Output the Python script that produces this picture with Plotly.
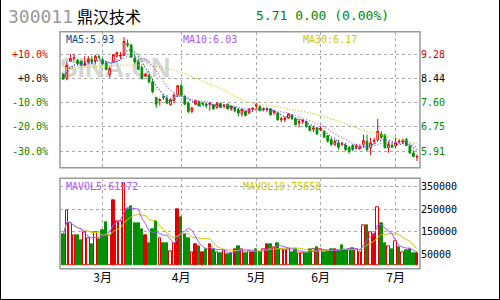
import plotly.graph_objects as go
import pandas as pd

# ---------------- data ----------------
opens = [8.59, 8.44, 9.04, 9.15, 9.07, 9.04, 8.90, 9.02, 9.10, 9.07,
         9.20, 9.07, 8.99, 8.58, 9.04, 9.22, 9.22, 9.25, 9.65, 9.61,
         9.15, 9.02, 8.82, 8.52, 8.55, 8.32, 7.77, 7.67, 7.80, 7.75,
         7.52, 7.67, 7.86, 8.19, 7.81, 7.58, 7.29, 7.54, 7.63, 7.58,
         7.55, 7.54, 7.52, 7.43, 7.57, 7.48, 7.54, 7.38, 7.43, 7.35,
         7.21, 7.29, 7.23, 7.37, 7.48, 7.46, 7.34, 7.36, 7.38, 7.25,
         7.23, 7.00, 7.00, 7.06, 7.17, 7.03, 6.89, 6.94, 6.94, 6.77,
         6.67, 6.71, 6.66, 6.60, 6.44, 6.31, 6.14, 6.19, 6.14, 6.11,
         6.02, 6.10, 6.04, 6.02, 6.14, 6.25, 6.02, 6.25, 6.31, 6.50,
         6.46, 6.02, 6.11, 6.08, 6.23, 6.23, 6.31, 6.08, 5.84, 5.70]
closes = [8.42, 8.90, 9.13, 9.17, 8.96, 8.90, 8.96, 9.11, 9.04, 9.21,
          9.17, 8.96, 8.75, 8.78, 9.27, 9.34, 9.25, 9.73, 9.61, 9.19,
          9.02, 8.76, 8.44, 8.59, 8.32, 7.98, 7.54, 7.70, 7.78, 7.58,
          7.69, 7.86, 8.19, 7.86, 7.54, 7.29, 7.40, 7.67, 7.49, 7.54,
          7.50, 7.58, 7.38, 7.57, 7.43, 7.51, 7.38, 7.46, 7.31, 7.23,
          7.35, 7.15, 7.38, 7.40, 7.52, 7.32, 7.37, 7.38, 7.17, 7.28,
          7.00, 7.03, 7.06, 7.20, 7.03, 6.83, 6.94, 6.97, 6.77, 6.62,
          6.71, 6.50, 6.70, 6.39, 6.25, 6.14, 6.25, 6.04, 6.16, 5.96,
          5.90, 5.96, 6.08, 6.06, 6.27, 5.96, 6.19, 6.27, 6.60, 6.39,
          6.02, 6.14, 6.04, 6.20, 6.25, 6.27, 6.10, 5.84, 5.71, 5.71]
highs = [8.61, 9.04, 9.30, 9.30, 9.13, 9.07, 9.22, 9.22, 9.22, 9.27,
         9.27, 9.15, 9.04, 8.84, 9.29, 9.38, 9.36, 9.88, 9.80, 9.65,
         9.30, 9.11, 8.90, 8.61, 8.57, 8.38, 7.80, 7.75, 7.89, 7.86,
         7.75, 7.92, 8.21, 8.27, 7.86, 7.63, 7.46, 7.69, 7.66, 7.63,
         7.58, 7.61, 7.54, 7.61, 7.60, 7.54, 7.58, 7.50, 7.46, 7.40,
         7.40, 7.32, 7.40, 7.43, 7.60, 7.50, 7.43, 7.43, 7.40, 7.35,
         7.26, 7.11, 7.11, 7.23, 7.20, 7.08, 7.03, 7.03, 6.96, 6.80,
         6.77, 6.73, 6.77, 6.62, 6.46, 6.37, 6.31, 6.31, 6.23, 6.19,
         6.08, 6.16, 6.16, 6.14, 6.48, 6.48, 6.37, 6.37, 7.03, 6.60,
         6.50, 6.25, 6.19, 6.37, 6.31, 6.34, 6.37, 6.14, 5.93, 5.79]
lows = [8.40, 8.38, 9.02, 9.07, 8.93, 8.88, 8.88, 8.96, 8.96, 8.93,
        9.13, 8.90, 8.73, 8.47, 8.99, 9.19, 9.13, 9.22, 9.53, 9.15,
        8.96, 8.73, 8.40, 8.50, 8.27, 7.92, 7.41, 7.50, 7.69, 7.54,
        7.50, 7.58, 7.80, 7.80, 7.52, 7.23, 7.23, 7.52, 7.46, 7.52,
        7.40, 7.32, 7.35, 7.38, 7.40, 7.40, 7.35, 7.31, 7.26, 7.11,
        7.11, 7.11, 7.20, 7.29, 7.37, 7.29, 7.29, 7.26, 7.15, 7.17,
        6.96, 6.92, 6.92, 7.03, 7.00, 6.80, 6.73, 6.85, 6.71, 6.60,
        6.57, 6.48, 6.60, 6.37, 6.20, 6.08, 6.08, 5.96, 6.08, 5.90,
        5.81, 5.90, 5.96, 5.93, 6.02, 5.90, 5.77, 6.14, 6.25, 6.31,
        6.00, 5.85, 6.02, 6.02, 6.16, 6.14, 6.08, 5.81, 5.70, 5.56]
# 30-day average for the first days (earlier history is not in the window)
ma30_head = [8.76, 8.78, 8.79, 8.80, 8.82, 8.83, 8.84, 8.84, 8.85, 8.86,
             8.86, 8.87, 8.88, 8.88, 8.89, 8.89, 8.90, 8.91, 8.91, 8.91,
             8.91, 8.91, 8.90, 8.90, 8.90, 8.88, 8.86, 8.84, 8.81]
volumes = [140000, 247000, 189000, 134000, 134000, 111000, 149000, 122000, 96000, 148000,
           118000, 157000, 193000, 134000, 291000, 197000, 197000, 367000, 248000, 265000,
           189000, 186000, 159000, 134000, 100000, 159000, 197000, 122000, 97000, 100000,
           63000, 100000, 251000, 216000, 137000, 122000, 60000, 96000, 86000, 60000,
           71000, 93000, 71000, 60000, 56000, 66000, 51000, 56000, 74000, 86000,
           71000, 56000, 63000, 60000, 71000, 60000, 74000, 93000, 93000, 81000,
           100000, 71000, 66000, 74000, 60000, 74000, 56000, 56000, 56000, 74000,
           71000, 82000, 71000, 60000, 63000, 71000, 74000, 66000, 88000, 66000,
           71000, 78000, 71000, 60000, 180000, 177000, 149000, 137000, 260000, 189000,
           100300, 86200, 71100, 108600, 82520, 60100, 65800, 72300, 54900, 54760]
# volume bar style: h = red hollow, s = red solid, g = green
vol_style = list("ghhhgghhgh" "ggghshhhgg" "gggsggghgg" "hhsggghsgs" "gsghghggsg"
                 "hghsgghsgh" "ghhhgghhgg" "hghgggsggg" "hghhhghshg" "ghghghgggs")
assert len(vol_style) == len(volumes) == len(closes)

stock_code = "300011"
stock_name = "鼎汉技术"
quote_text = "5.71 0.00 (0.00%)"
watermark = "SINA.CN"
base_price = 8.44
pct_levels = [10, 0, -10, -20, -30]
vol_ticks = [50000, 150000, 250000, 350000]
month_idx = [11, 33, 54, 72, 93]
month_labels = ["3月", "4月", "5月", "6月", "7月"]
ma_labels = ["MA5:5.93", "MA10:6.03", "MA30:6.17"]
mavol_labels = ["MAVOL5:61572", "MAVOL10:75658"]

# ---------------- styling ----------------
RED = "#e00000"
GREEN = "#009000"
TGREEN = "#008800"
C_MA5 = "#0b4aa0"
C_MA10 = "#aa55ff"
C_MA30 = "#c8c800"
GRID = "#aaaaaa"
FRAME = "#999999"
MONO = "DejaVu Sans Mono"
CJK = "Noto Sans CJK SC"

W, H = 500, 300
def px(x):
    return x / W
def py(y):
    return 1 - y / H

idx = list(range(len(closes)))
cs = pd.Series(closes)
ma5 = cs.rolling(5, min_periods=1).mean()
ma10 = cs.rolling(10, min_periods=1).mean()
ma30 = cs.rolling(30).mean()
ma30[:len(ma30_head)] = ma30_head
vs = pd.Series(volumes)
mv5 = vs.rolling(5, min_periods=1).mean()
mv10 = vs.rolling(10, min_periods=1).mean()

fig = go.Figure()
fig.add_trace(go.Candlestick(
    x=idx, open=opens, high=highs, low=lows, close=closes,
    increasing=dict(line=dict(color=RED, width=1), fillcolor="white"),
    decreasing=dict(line=dict(color=GREEN, width=1), fillcolor=GREEN),
    whiskerwidth=0, xaxis="x", yaxis="y", hoverinfo="skip", showlegend=False))
for ser, col in [(ma30, C_MA30), (ma10, C_MA10), (ma5, C_MA5)]:
    fig.add_trace(go.Scatter(x=idx, y=ser, mode="lines", xaxis="x", yaxis="y",
                             line=dict(color=col, width=1.2, dash="1px,2px"),
                             hoverinfo="skip", showlegend=False))

fill = {"h": "white", "s": RED, "g": GREEN}
edge = {"h": RED, "s": RED, "g": GREEN}
fig.add_trace(go.Bar(
    x=idx, y=volumes, xaxis="x2", yaxis="y2", width=0.7,
    marker=dict(color=[fill[s] for s in vol_style],
                line=dict(color=[edge[s] for s in vol_style], width=1)),
    hoverinfo="skip", showlegend=False))
for ser, col in [(mv10, C_MA30), (mv5, C_MA10)]:
    fig.add_trace(go.Scatter(x=idx, y=ser, mode="lines", xaxis="x2", yaxis="y2",
                             line=dict(color=col, width=1),
                             hoverinfo="skip", showlegend=False))

def tcol(p):
    return RED if p > 0 else ("black" if p == 0 else TGREEN)

price_ticks = [base_price * (1 + p / 100) for p in pct_levels]
price_text = ['<span style="color:%s">%.2f</span>' % (tcol(p), v)
              for p, v in zip(pct_levels, price_ticks)]
pct_text = ['<span style="color:%s">%+.1f%%</span>' % (tcol(p), p) for p in pct_levels]

main_dom = [py(167.7), py(31.7)]
vol_dom = [py(268.7), py(178.3)]
x_dom = [px(60), px(420)]
prange = [5.325, 10.073]
xrange_ = [-0.92, 99.83]

axfont = dict(family=MONO, size=10, color="black")
fig.update_layout(
    width=W, height=H, margin=dict(l=0, r=0, t=0, b=0),
    paper_bgcolor="white", plot_bgcolor="white", showlegend=False,
    bargap=0,
    xaxis=dict(domain=x_dom, anchor="y", range=xrange_, tickvals=month_idx,
               showticklabels=False, ticks="", showgrid=True, gridcolor=GRID,
               griddash="dot", gridwidth=1, zeroline=False, showline=False,
               rangeslider=dict(visible=False)),
    xaxis2=dict(domain=x_dom, anchor="y2", range=xrange_, tickvals=month_idx,
                ticktext=month_labels, ticks="", showgrid=True, gridcolor=GRID,
                griddash="dot", gridwidth=1, zeroline=False, showline=False,
                tickfont=dict(family=CJK, size=12, color="black")),
    yaxis=dict(domain=main_dom, anchor="x", side="right", range=prange,
               tickvals=price_ticks, ticktext=price_text, ticks="",
               showgrid=True, gridcolor=GRID, griddash="dot", gridwidth=1,
               zeroline=False, showline=False, tickfont=axfont),
    yaxis3=dict(overlaying="y", anchor="x", side="left", range=prange,
                tickvals=price_ticks, ticktext=pct_text, ticks="outside",
                ticklen=9, tickcolor="rgba(0,0,0,0)", showgrid=False,
                zeroline=False, showline=False, tickfont=axfont),
    yaxis2=dict(domain=vol_dom, anchor="x2", side="right", range=[-13760, 387280],
                tickvals=vol_ticks, ticktext=[str(v) for v in vol_ticks], ticks="",
                showgrid=True, gridcolor=GRID, griddash="dot", gridwidth=1,
                zeroline=False, showline=False, tickfont=axfont),
)
# the left percent axis needs a trace to be drawn
fig.add_trace(go.Scatter(x=[None], y=[None], xaxis="x", yaxis="y3", showlegend=False))

shapes = [
    dict(type="rect", xref="paper", yref="paper", x0=px(62), x1=px(168),
         y0=py(77), y1=py(52), line=dict(width=0), layer="below",
         label=dict(text=watermark, textposition="middle center", textangle=0,
                    font=dict(family="Liberation Sans", size=27, color="#d4d4d4",
                              weight="bold"))),
    dict(type="rect", xref="paper", yref="paper", x0=x_dom[0], x1=x_dom[1],
         y0=main_dom[0], y1=main_dom[1], line=dict(color=FRAME, width=1.5)),
    dict(type="rect", xref="paper", yref="paper", x0=x_dom[0], x1=x_dom[1],
         y0=vol_dom[0], y1=vol_dom[1], line=dict(color=FRAME, width=1.5)),
    dict(type="line", xref="paper", yref="paper", x0=0, x1=0, y0=0, y1=1,
         line=dict(color="black", width=2)),
    dict(type="line", xref="paper", yref="paper", x0=1, x1=1, y0=0, y1=1,
         line=dict(color="black", width=2)),
    dict(type="line", xref="paper", yref="paper", x0=0, x1=1, y0=0, y1=0,
         line=dict(color="black", width=2)),
]
fig.update_layout(shapes=shapes)

def note(text, x, y, size, color, family=MONO):
    return dict(text=text, x=px(x), y=py(y), xref="paper", yref="paper",
                xanchor="left", yanchor="middle", showarrow=False,
                font=dict(family=family, size=size, color=color), borderpad=0)

anns = [
    note(stock_code, 7, 17, 18, "#999999"),
    note(stock_name, 76, 16, 16, "black", CJK),
    note(quote_text, 255, 15, 13, TGREEN),
    note(ma_labels[0], 65, 39, 10, C_MA5),
    note(ma_labels[1], 182, 39, 10, C_MA10),
    note(ma_labels[2], 302, 39, 10, C_MA30),
    note(mavol_labels[0], 65, 186, 10, C_MA10),
    note(mavol_labels[1], 242, 186, 10, C_MA30),
]
fig.update_layout(annotations=anns)

fig.write_html("out.html")
